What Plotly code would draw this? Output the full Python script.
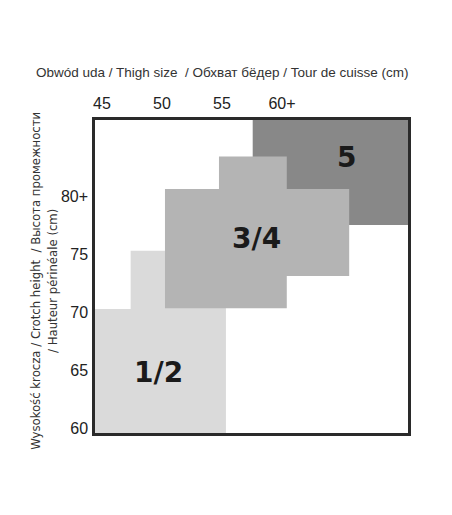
import plotly.graph_objects as go

# ---- data ----
thigh_ticks = [45, 50, 55, 60]
thigh_tick_labels = ["45", "50", "55", "60+"]
height_ticks = [60, 65, 70, 75, 80]
height_tick_labels = ["60", "65", "70", "75", "80+"]

thigh_range = [44.42, 70.5]
height_range = [59.57, 86.55]

size_names = ["5", "1/2", "3/4"]
size_colors = ["#888888", "#dadada", "#b4b4b4"]

# outline of each size zone (thigh size, crotch height)
size5_thigh = [57.56, 70.5, 70.5, 57.56]
size5_height = [77.5, 77.5, 86.55, 86.55]

size12_thigh = [44.42, 55.33, 55.33, 47.39, 47.39, 44.42]
size12_height = [59.57, 59.57, 75.28, 75.28, 70.26, 70.26]

size34_thigh = [50.25, 60.4, 60.4, 65.6, 65.6, 60.4, 60.4, 54.75, 54.75, 50.25]
size34_height = [70.32, 70.32, 73.1, 73.1, 80.6, 80.6, 83.4, 83.4, 80.6, 80.6]

label_thigh = [65.4, 49.75, 57.9]
label_height = [83.36, 64.8, 76.3]

x_title = "Obwód uda / Thigh size  / Обхват бёдер / Tour de cuisse (cm)"
y_title = "Wysokość krocza / Crotch height  / Высота промежности<br>/ Hauteur périnéale (cm)"

zones_x = [size5_thigh, size12_thigh, size34_thigh]
zones_y = [size5_height, size12_height, size34_height]

fig = go.Figure()
for name, color, xs, ys in zip(size_names, size_colors, zones_x, zones_y):
    fig.add_trace(go.Scatter(
        x=xs + [xs[0]], y=ys + [ys[0]], mode="lines", fill="toself",
        fillcolor=color, line=dict(width=0, color=color),
        hoverinfo="skip", showlegend=False, name=name))

for name, lx, ly in zip(size_names, label_thigh, label_height):
    fig.add_annotation(x=lx, y=ly, text="<b>" + name + "</b>", showarrow=False,
                       font=dict(family="DejaVu Sans", size=28, color="#1a1a1a"))

narrow = "Liberation Sans Narrow, Arial Narrow, DejaVu Sans Condensed, sans-serif"
tickfam = "Liberation Sans, Arial, sans-serif"

fig.add_annotation(xref="paper", yref="paper", x=0.406, y=1.153, text=x_title,
                   showarrow=False, xanchor="center", yanchor="middle",
                   font=dict(family="Liberation Sans, Arial", size=13.5, color="#333333"))
fig.add_annotation(xref="paper", yref="paper", x=-0.163, y=0.486, text=y_title,
                   showarrow=False, xanchor="center", yanchor="middle", textangle=-90,
                   font=dict(family=narrow, size=13, color="#333333"))

fig.update_xaxes(range=thigh_range, side="top", tickvals=thigh_ticks,
                 ticktext=thigh_tick_labels, showgrid=False, zeroline=False,
                 showline=True, mirror=True, linecolor="#2a2a2a", linewidth=2.5,
                 ticks="", ticklabelstandoff=2,
                 tickfont=dict(family=tickfam, size=16, color="#222222"))
fig.update_yaxes(range=height_range, tickvals=height_ticks,
                 ticktext=height_tick_labels, showgrid=False, zeroline=False,
                 showline=True, mirror=True, linecolor="#2a2a2a", linewidth=2.5,
                 ticks="", ticklabelstandoff=1,
                 tickfont=dict(family=tickfam, size=16, color="#222222"))

fig.update_layout(width=452, height=515, plot_bgcolor="white", paper_bgcolor="white",
                  margin=dict(l=87, r=52, t=112, b=90))

fig.write_html("out.html")
